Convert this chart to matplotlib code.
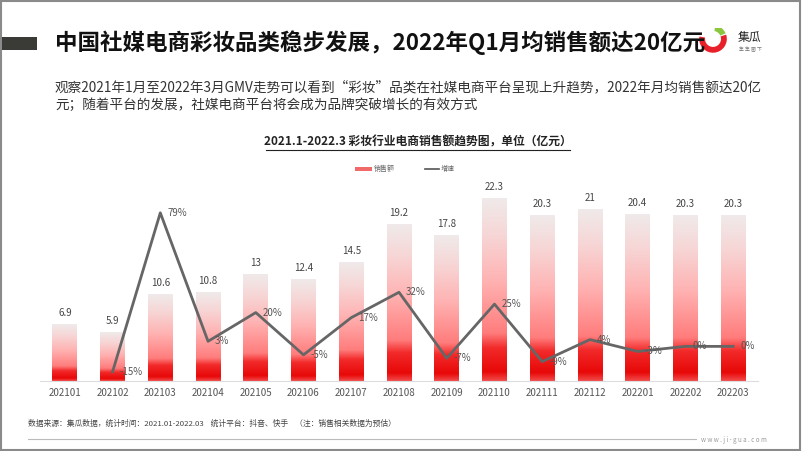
import numpy as np
import matplotlib
matplotlib.use("Agg")
import matplotlib.pyplot as plt
from matplotlib.colors import LinearSegmentedColormap
from matplotlib.patches import Rectangle, Wedge
from matplotlib.lines import Line2D

plt.rcParams['font.family'] = ['Noto Sans CJK SC', 'DejaVu Sans']

months = ['202101', '202102', '202103', '202104', '202105', '202106', '202107', '202108',
          '202109', '202110', '202111', '202112', '202201', '202202', '202203']
sales = [6.9, 5.9, 10.6, 10.8, 13, 12.4, 14.5, 19.2, 17.8, 22.3, 20.3, 21, 20.4, 20.3, 20.3]
# growth starts from 202102
growth = [-15, 79, 3, 20, -5, 17, 32, -7, 25, -9, 4, -3, 0, 0]
growth_labels = ['-15%', '79%', '3%', '20%', '-5%', '17%', '32%', '-7%', '25%', '-9%', '4%', '-3%', '0%', '0%']

W, H = 802, 451
fig = plt.figure(figsize=(W / 100, H / 100), dpi=100)


def fx(x):
    return x / W


def fy(y):
    return 1 - y / H


# frame border + header block
fig.patches.append(Rectangle((0.001, 0.002), 0.997, 0.995, transform=fig.transFigure,
                             fill=False, edgecolor='#8a8a8a', lw=1.5))
fig.patches.append(Rectangle((fx(2), fy(50)), fx(35), 13 / H, transform=fig.transFigure,
                             facecolor='#3a3a36', edgecolor='none'))

fig.text(fx(55), fy(43), '中国社媒电商彩妆品类稳步发展，2022年Q1月均销售额达20亿元',
         fontsize=16.2, fontweight='bold', color='#111111', va='center', ha='left')

# logo
lax = fig.add_axes([fx(697), fy(60), 32 / W, 32 / H])
lax.set_xlim(-1.1, 1.1)
lax.set_ylim(-1.1, 1.1)
lax.set_aspect('equal')
lax.axis('off')
lax.add_patch(Wedge((0, 0.35), 0.95, 170, 18, width=0.4, facecolor='#e8202a'))
lax.add_patch(Wedge((0, 0.35), 0.95, 24, 80, width=0.4, facecolor='#8cc63f'))
fig.text(fx(738), fy(38), '集瓜', fontsize=8.5, color='#222222', va='center', ha='left')
fig.text(fx(739), fy(50), '集 集 圈 下', fontsize=3.5, color='#777777', va='center', ha='left')

# subtitle
fig.text(fx(55), fy(87), '观察2021年1月至2022年3月GMV走势可以看到“彩妆”品类在社媒电商平台呈现上升趋势，2022年月均销售额达20亿',
         fontsize=9.8, color='#333333', va='center', ha='left')
fig.text(fx(55), fy(105), '元；随着平台的发展，社媒电商平台将会成为品牌突破增长的有效方式',
         fontsize=9.8, color='#333333', va='center', ha='left')

# chart title with underline
fig.text(fx(418), fy(142), '2021.1-2022.3 彩妆行业电商销售额趋势图，单位（亿元）',
         fontsize=8.5, fontweight='bold', color='#222222', va='center', ha='center')
fig.add_artist(Line2D([fx(266), fx(570)], [fy(150), fy(150)], color='#222222', lw=0.8))

# legend
fig.patches.append(Rectangle((fx(355), fy(171)), 17 / W, 4 / H, transform=fig.transFigure,
                             facecolor='#f06a6a', edgecolor='none'))
fig.text(fx(374), fy(169), '销售额', fontsize=5, color='#666666', va='center', ha='left')
fig.add_artist(Line2D([fx(425), fx(439)], [fy(169), fy(169)], color='#555555', lw=1.2))
fig.text(fx(441), fy(169), '增速', fontsize=5, color='#666666', va='center', ha='left')

# main chart
ax_l, ax_r, ax_t, ax_b = 40, 758, 190, 380.7
ax = fig.add_axes([fx(ax_l), fy(ax_b), (ax_r - ax_l) / W, (ax_b - ax_t) / H])
x = np.arange(len(months))
bar_w = 0.52

cmap = LinearSegmentedColormap.from_list('bar', [
    (0.0, '#f24a4a'), (0.05, '#e80808'), (0.18, '#f22a2a'), (0.26, '#ff7c7c'),
    (0.55, '#ffb3b3'), (0.8, '#f7d6d6'), (1.0, '#f0eaea')])
grad = np.linspace(0, 1, 256).reshape(-1, 1)
for xi, v in zip(x, sales):
    ax.imshow(grad, extent=[xi - bar_w / 2, xi + bar_w / 2, 0, v], origin='lower',
              cmap=cmap, aspect='auto', zorder=1, interpolation='bilinear')
    ax.text(xi, v + 0.75, f'{v:g}', ha='center', va='bottom', fontsize=7, color='#444444')

ax.set_xlim(-0.52, 14.52)
ax.set_ylim(0, 23.34)
ax.set_xticks(x)
ax.set_xticklabels(months, fontsize=7, color='#555555')
ax.tick_params(axis='x', length=0, pad=5)
ax.set_yticks([])
for s in ['top', 'right', 'left']:
    ax.spines[s].set_visible(False)
ax.spines['bottom'].set_color('#dddddd')
ax.patch.set_alpha(0)

ax2 = ax.twinx()
gx = x[1:]
ax2.plot(gx, growth, color='#666666', lw=2, zorder=3)
for xi, g, lab in zip(gx, growth, growth_labels):
    ax2.annotate(lab, (xi, g), xytext=(5, 0), textcoords='offset points',
                 ha='left', va='center', fontsize=7, color='#555555')
ax2.set_ylim(-20.3, 92.5)
ax2.set_yticks([])
for s in ax2.spines.values():
    s.set_visible(False)

# footer
fig.text(fx(28), fy(424), '数据来源：集瓜数据，统计时间：2021.01-2022.03    统计平台：抖音、快手    （注：销售相关数据为预估）',
         fontsize=5.6, color='#444444', va='center', ha='left')
fig.add_artist(Line2D([fx(28), fx(696)], [fy(439), fy(439)], color='#bbbbbb', lw=0.8))
fig.text(fx(701), fy(440), 'w w w . j i - g u a . c o m', fontsize=4.5, color='#999999',
         va='center', ha='left')

fig.savefig('out.png', dpi=100)
